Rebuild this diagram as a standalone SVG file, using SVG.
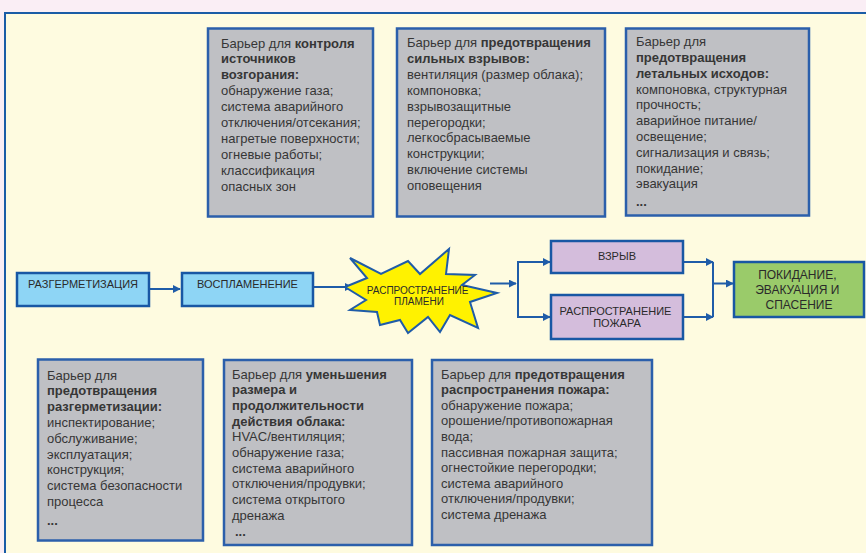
<svg xmlns="http://www.w3.org/2000/svg" width="866" height="553" viewBox="0 0 866 553">
<defs>
<style>
.t{font-family:"Liberation Sans",Arial,sans-serif;font-size:13px;fill:#363636}
.b{font-weight:bold}
.bar{fill:#bfc0c4;stroke:#2b5fab;stroke-width:2.5}
.flow{font-family:"Liberation Sans",Arial,sans-serif;fill:#2a2a2a;text-anchor:middle}
.blue{fill:#8ed5f5;stroke:#1857a4;stroke-width:2.5}
.purp{fill:#d4bddc;stroke:#1857a4;stroke-width:2.5}
.green{fill:#9acb6a;stroke:#1857a4;stroke-width:2.5}
.c{fill:none;stroke:#1f5ca8;stroke-width:2}
</style>
<marker id="ah" viewBox="0 0 10 10" refX="9" refY="5" markerWidth="4" markerHeight="4" orient="auto" markerUnits="strokeWidth">
<path d="M0,0 L10,5 L0,10 z" fill="#1f5ca8"/>
</marker>
</defs>
<rect x="0" y="0" width="866" height="553" fill="#faeef5"/>
<rect x="5" y="13" width="875" height="560" fill="#fefbe0" stroke="#1a5ca6" stroke-width="2"/>

<g id="connectors">
<line class="c" x1="149" y1="289" x2="180" y2="289" marker-end="url(#ah)"/>
<line class="c" x1="313" y1="287" x2="352" y2="287" marker-end="url(#ah)"/>
<line class="c" x1="490" y1="283.5" x2="516" y2="283.5" marker-end="url(#ah)"/>
<path class="c" d="M550,262 H518 V317 H550"/>
<line class="c" x1="540" y1="262" x2="550" y2="262" marker-end="url(#ah)"/>
<line class="c" x1="540" y1="317" x2="550" y2="317" marker-end="url(#ah)"/>
<line class="c" x1="683" y1="262" x2="713" y2="262" marker-end="url(#ah)"/>
<line class="c" x1="683" y1="317" x2="713" y2="317" marker-end="url(#ah)"/>
<line class="c" x1="713" y1="262" x2="713" y2="317"/>
<line class="c" x1="713" y1="283.5" x2="733" y2="283.5" marker-end="url(#ah)"/>
</g>

<g id="barrier-ignition">
<rect class="bar" x="208" y="28.5" width="165" height="188"/>
<text class="t">
<tspan x="221" y="47.5">Барьер для <tspan class="b">контроля</tspan></tspan>
<tspan x="221" y="63.4" class="b">источников</tspan>
<tspan x="221" y="79.3" class="b">возгорания:</tspan>
<tspan x="221" y="95.2">обнаружение газа;</tspan>
<tspan x="221" y="111.1">система аварийного</tspan>
<tspan x="221" y="127">отключения/отсекания;</tspan>
<tspan x="221" y="142.9">нагретые поверхности;</tspan>
<tspan x="221" y="158.8">огневые работы;</tspan>
<tspan x="221" y="174.7">классификация</tspan>
<tspan x="221" y="190.6">опасных зон</tspan>
</text>
</g>

<g id="barrier-explosion">
<rect class="bar" x="397" y="28.5" width="208" height="188"/>
<text class="t">
<tspan x="407" y="47">Барьер для <tspan class="b">предотвращения</tspan></tspan>
<tspan x="407" y="62.9" class="b">сильных взрывов:</tspan>
<tspan x="407" y="78.8">вентиляция (размер облака);</tspan>
<tspan x="407" y="94.7">компоновка;</tspan>
<tspan x="407" y="110.6">взрывозащитные</tspan>
<tspan x="407" y="126.5">перегородки;</tspan>
<tspan x="407" y="142.4">легкосбрасываемые</tspan>
<tspan x="407" y="158.3">конструкции;</tspan>
<tspan x="407" y="174.2">включение системы</tspan>
<tspan x="407" y="190.1">оповещения</tspan>
</text>
</g>

<g id="barrier-fatal">
<rect class="bar" x="626" y="28.5" width="183" height="187"/>
<text class="t">
<tspan x="636" y="46.2">Барьер для</tspan>
<tspan x="636" y="62" class="b">предотвращения</tspan>
<tspan x="636" y="77.8" class="b">летальных исходов:</tspan>
<tspan x="636" y="93.6">компоновка, структурная</tspan>
<tspan x="636" y="109.4">прочность;</tspan>
<tspan x="636" y="125.2">аварийное питание/</tspan>
<tspan x="636" y="141">освещение;</tspan>
<tspan x="636" y="156.8">сигнализация и связь;</tspan>
<tspan x="636" y="172.6">покидание;</tspan>
<tspan x="636" y="188.4">эвакуация</tspan>
<tspan x="636" y="205.5" class="b">...</tspan>
</text>
</g>

<g id="depressurization">
<rect class="blue" x="17" y="273" width="132" height="33"/>
<text class="flow" x="83" y="288" font-size="11">РАЗГЕРМЕТИЗАЦИЯ</text>
</g>

<g id="ignition">
<rect class="blue" x="182" y="273" width="131" height="33"/>
<text class="flow" x="247.5" y="288" font-size="11">ВОСПЛАМЕНЕНИЕ</text>
</g>

<g id="flame-spread">
<polygon points="350,258 381,274 408,261 420,274 449,249 446,274 475,275 462,285 497,293 470,302 478,328 450,315 440,332 428,317 408,333 400,320 380,325 377,312 350,310 366,300 345,287 367,278" fill="#fff200" stroke="#1f5ca8" stroke-width="2" stroke-linejoin="miter"/>
<text class="flow" font-size="10">
<tspan x="419" y="293.5">РАСПРОСТРАНЕНИЕ</tspan>
<tspan x="419" y="304.5">ПЛАМЕНИ</tspan>
</text>
</g>

<g id="explosion">
<rect class="purp" x="551" y="241" width="132" height="32"/>
<text class="flow" x="617" y="260" font-size="11">ВЗРЫВ</text>
</g>

<g id="fire-spread">
<rect class="purp" x="551" y="295" width="132" height="44"/>
<text class="flow" font-size="11">
<tspan x="617" y="315">РАСПРОСТРАНЕНИЕ</tspan>
<tspan x="617" y="326.5">ПОЖАРА</tspan>
</text>
</g>

<g id="escape">
<rect class="green" x="734" y="262" width="130" height="55"/>
<text class="flow" font-size="12">
<tspan x="799" y="279">ПОКИДАНИЕ,</tspan>
<tspan x="799" y="294">ЭВАКУАЦИЯ И</tspan>
<tspan x="799" y="308.5">СПАСЕНИЕ</tspan>
</text>
</g>

<g id="barrier-depressurization">
<rect class="bar" x="38" y="359.5" width="165" height="181"/>
<text class="t">
<tspan x="47" y="379.5">Барьер для</tspan>
<tspan x="47" y="395.3" class="b">предотвращения</tspan>
<tspan x="47" y="411.1" class="b">разгерметизации:</tspan>
<tspan x="47" y="426.9">инспектирование;</tspan>
<tspan x="47" y="442.7">обслуживание;</tspan>
<tspan x="47" y="458.5">эксплуатация;</tspan>
<tspan x="47" y="474.3">конструкция;</tspan>
<tspan x="47" y="490.1">система безопасности</tspan>
<tspan x="47" y="505.9">процесса</tspan>
<tspan x="47" y="525" class="b">...</tspan>
</text>
</g>

<g id="barrier-cloud">
<rect class="bar" x="224" y="360" width="188" height="185"/>
<text class="t">
<tspan x="232" y="378.5">Барьер для <tspan class="b">уменьшения</tspan></tspan>
<tspan x="232" y="394.2" class="b">размера и</tspan>
<tspan x="232" y="409.9" class="b">продолжительности</tspan>
<tspan x="232" y="425.6" class="b">действия облака:</tspan>
<tspan x="232" y="441.3">HVAC/вентиляция;</tspan>
<tspan x="232" y="457">обнаружение газа;</tspan>
<tspan x="232" y="472.7">система аварийного</tspan>
<tspan x="232" y="488.4">отключения/продувки;</tspan>
<tspan x="232" y="504.1">система открытого</tspan>
<tspan x="232" y="519.8">дренажа</tspan>
<tspan x="235" y="535.5" class="b">...</tspan>
</text>
</g>

<g id="barrier-fire">
<rect class="bar" x="432" y="360" width="220" height="185"/>
<text class="t">
<tspan x="441" y="378.5">Барьер для <tspan class="b">предотвращения</tspan></tspan>
<tspan x="441" y="394.1" class="b">распространения пожара:</tspan>
<tspan x="441" y="409.7">обнаружение пожара;</tspan>
<tspan x="441" y="425.3">орошение/противопожарная</tspan>
<tspan x="441" y="440.9">вода;</tspan>
<tspan x="441" y="456.5">пассивная пожарная защита;</tspan>
<tspan x="441" y="472.1">огнестойкие перегородки;</tspan>
<tspan x="441" y="487.7">система аварийного</tspan>
<tspan x="441" y="503.3">отключения/продувки;</tspan>
<tspan x="441" y="518.9">система дренажа</tspan>
</text>
</g>
</svg>
